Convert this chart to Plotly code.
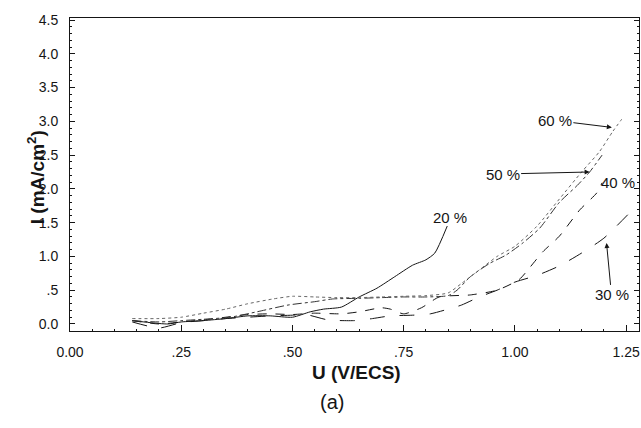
import plotly.graph_objects as go

# ---- data ----
x20 = [0.14, 0.18, 0.22, 0.25, 0.30, 0.35, 0.40, 0.45, 0.50, 0.54, 0.57, 0.61, 0.65, 0.69, 0.73, 0.77, 0.80, 0.82, 0.848]
y20 = [0.05, 0.02, 0.00, 0.03, 0.05, 0.08, 0.12, 0.12, 0.10, 0.18, 0.22, 0.25, 0.40, 0.53, 0.70, 0.87, 0.95, 1.05, 1.45]

x30 = [0.14, 0.20, 0.25, 0.30, 0.35, 0.40, 0.45, 0.50, 0.53, 0.58, 0.64, 0.68, 0.72, 0.77, 0.81, 0.85, 0.88, 0.92, 0.96, 1.00, 1.05, 1.10, 1.15, 1.20, 1.26]
y30 = [0.03, -0.06, 0.02, 0.05, 0.08, 0.10, 0.12, 0.13, 0.14, 0.06, 0.05, 0.08, 0.12, 0.13, 0.15, 0.22, 0.28, 0.40, 0.50, 0.62, 0.72, 0.86, 1.05, 1.27, 1.66]

x40 = [0.14, 0.20, 0.25, 0.30, 0.35, 0.40, 0.45, 0.50, 0.55, 0.61, 0.65, 0.70, 0.72, 0.75, 0.79, 0.83, 0.90, 0.96, 1.01, 1.034, 1.063, 1.10, 1.146, 1.184, 1.196]
y40 = [0.05, 0.00, 0.03, 0.06, 0.10, 0.14, 0.15, 0.14, 0.16, 0.15, 0.18, 0.24, 0.22, 0.15, 0.24, 0.40, 0.43, 0.50, 0.66, 0.84, 1.07, 1.30, 1.69, 1.94, 2.09]

x50 = [0.14, 0.20, 0.25, 0.30, 0.36, 0.42, 0.49, 0.55, 0.59, 0.65, 0.70, 0.75, 0.80, 0.85, 0.87, 0.90, 0.944, 0.98, 1.018, 1.056, 1.10, 1.14, 1.168, 1.196]
y50 = [0.05, 0.03, 0.05, 0.07, 0.10, 0.18, 0.28, 0.33, 0.37, 0.38, 0.39, 0.40, 0.40, 0.42, 0.50, 0.70, 0.90, 1.02, 1.20, 1.42, 1.80, 2.05, 2.25, 2.50]

x60 = [0.14, 0.20, 0.25, 0.30, 0.35, 0.40, 0.456, 0.50, 0.55, 0.60, 0.65, 0.70, 0.75, 0.80, 0.85, 0.88, 0.92, 0.96, 1.00, 1.05, 1.10, 1.15, 1.19, 1.22, 1.24]
y60 = [0.08, 0.08, 0.10, 0.16, 0.22, 0.30, 0.37, 0.41, 0.40, 0.39, 0.39, 0.40, 0.41, 0.42, 0.46, 0.60, 0.80, 1.00, 1.15, 1.45, 1.85, 2.25, 2.55, 2.85, 3.03]

x_tickvals = [0.0, 0.25, 0.50, 0.75, 1.00, 1.25]
x_ticktext = ["0.00", ".25", ".50", ".75", "1.00", "1.25"]
y_tickvals = [0.0, 0.5, 1.0, 1.5, 2.0, 2.5, 3.0, 3.5, 4.0, 4.5]
y_ticktext = ["0.0", ".5", "1.0", "1.5", "2.0", "2.5", "3.0", "3.5", "4.0", "4.5"]

FONT = "Liberation Sans, Arial, sans-serif"
INK = "#151515"

fig = go.Figure()
series = [
    (x20, y20, "solid", INK, "20 %"),
    (x30, y30, "longdash", INK, "30 %"),
    (x40, y40, "dash", INK, "40 %"),
    (x50, y50, "dashdot", "#333333", "50 %"),
    (x60, y60, "dot", "#666666", "60 %"),
]
for xs, ys, dash, col, name in series:
    fig.add_trace(go.Scatter(x=xs, y=ys, mode="lines", name=name,
                             line=dict(color=col, width=1, dash=dash, shape="spline", smoothing=0.6),
                             showlegend=False))

ann_font = dict(family=FONT, size=15, color=INK)
annotations = [
    dict(x=0.854, y=1.58, xref="x", yref="y", text="20 %", showarrow=False, font=ann_font),
    dict(x=1.231, y=2.10, xref="x", yref="y", text="40 %", showarrow=False, font=ann_font),
    dict(x=1.218, y=2.91, xref="x", yref="y", text="60 %", showarrow=True, ax=-57, ay=-7,
         arrowhead=2, arrowsize=1, arrowwidth=1, arrowcolor=INK, font=ann_font),
    dict(x=1.168, y=2.25, xref="x", yref="y", text="50 %", showarrow=True, ax=-87, ay=2,
         arrowhead=2, arrowsize=1, arrowwidth=1, arrowcolor=INK, font=ann_font),
    dict(x=1.206, y=1.20, xref="x", yref="y", text="30 %", showarrow=True, ax=5, ay=52,
         arrowhead=2, arrowsize=1, arrowwidth=1, arrowcolor=INK, font=ann_font),
    dict(x=0.503, y=-0.173, xref="paper", yref="paper", text="<b>U (V/ECS)</b>", showarrow=False,
         font=dict(family=FONT, size=19, color=INK)),
    dict(x=0.461, y=-0.268, xref="paper", yref="paper", text="(a)", showarrow=False,
         font=dict(family=FONT, size=20, color=INK)),
    dict(x=-0.084, y=0.492, xref="paper", yref="paper", text="<b>I (mA/cm<sup>2</sup>)</b>", showarrow=False,
         textangle=-90, font=dict(family=FONT, size=19, color=INK)),
]

fig.update_layout(
    width=641, height=428,
    margin=dict(l=70, r=2, t=18, b=97),
    paper_bgcolor="white", plot_bgcolor="white",
    annotations=annotations,
    xaxis=dict(range=[0, 1.279], tickvals=x_tickvals, ticktext=x_ticktext,
               showgrid=False, zeroline=False, showline=True, linecolor=INK, linewidth=1,
               mirror=True, ticks="inside", ticklen=6, tickcolor=INK,
               ticklabelstandoff=8,
               minor=dict(dtick=0.05, ticks="inside", ticklen=2, tickcolor=INK),
               tickfont=dict(family=FONT, size=14, color=INK)),
    yaxis=dict(range=[-0.104, 4.53], tickvals=y_tickvals, ticktext=y_ticktext,
               showgrid=False, zeroline=False, showline=True, linecolor=INK, linewidth=1,
               mirror="ticks", ticks="inside", ticklen=5, tickcolor=INK,
               ticklabelstandoff=8,
               minor=dict(dtick=0.1, ticks="inside", ticklen=2, tickcolor=INK),
               tickfont=dict(family=FONT, size=14, color=INK)),
)

fig.write_html("out.html")
